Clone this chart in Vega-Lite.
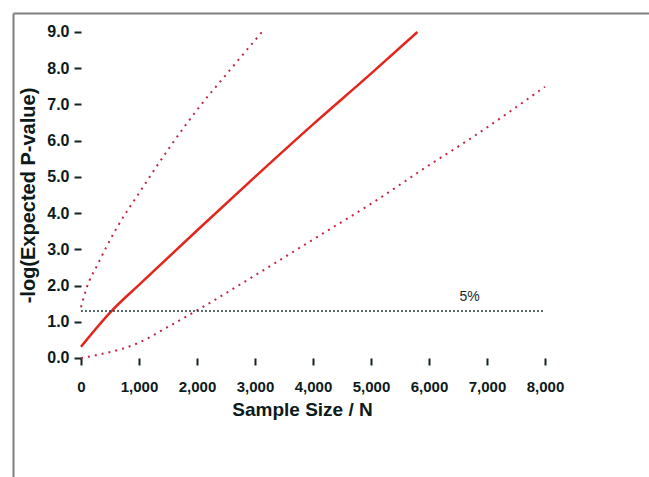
{
  "$schema": "https://vega.github.io/schema/vega-lite/v6.json",
  "width": 636,
  "height": 464,
  "padding": {"left": 13, "top": 13, "right": 0, "bottom": 0},
  "background": "white",
  "config": {"view": {"stroke": null}},
  "datasets": {
    "curves": [
      {"series": "mid", "n": 0, "p": 0.31},
      {"series": "mid", "n": 529, "p": 1.3},
      {"series": "mid", "n": 1000, "p": 2.02},
      {"series": "mid", "n": 2000, "p": 3.52},
      {"series": "mid", "n": 3000, "p": 5.0},
      {"series": "mid", "n": 4000, "p": 6.45},
      {"series": "mid", "n": 5000, "p": 7.85},
      {"series": "mid", "n": 5800, "p": 9.0},
      {"series": "upper", "n": 0, "p": 1.4},
      {"series": "upper", "n": 100, "p": 1.95},
      {"series": "upper", "n": 276, "p": 2.55},
      {"series": "upper", "n": 620, "p": 3.6},
      {"series": "upper", "n": 1000, "p": 4.55},
      {"series": "upper", "n": 1500, "p": 5.75},
      {"series": "upper", "n": 2050, "p": 6.95},
      {"series": "upper", "n": 2500, "p": 7.82},
      {"series": "upper", "n": 3120, "p": 9.0},
      {"series": "lower", "n": 0, "p": 0.0},
      {"series": "lower", "n": 328, "p": 0.1},
      {"series": "lower", "n": 965, "p": 0.4},
      {"series": "lower", "n": 1500, "p": 0.86},
      {"series": "lower", "n": 2017, "p": 1.33},
      {"series": "lower", "n": 3000, "p": 2.28},
      {"series": "lower", "n": 4000, "p": 3.27},
      {"series": "lower", "n": 5100, "p": 4.36},
      {"series": "lower", "n": 5960, "p": 5.28},
      {"series": "lower", "n": 6764, "p": 6.11},
      {"series": "lower", "n": 8000, "p": 7.49}
    ],
    "threshold": [
      {"n": 0, "p": 1.3},
      {"n": 8000, "p": 1.3}
    ],
    "note": [
      {"n": 6700, "p": 1.3, "label": "5%"}
    ]
  },
  "resolve": {"axis": {"x": "independent", "y": "independent"}},
  "layer": [
    {
      "data": {"name": "curves"},
      "mark": {"type": "point", "opacity": 0},
      "encoding": {
        "x": {"field": "n", "type": "quantitative",
          "scale": {"domain": [-1172.4, 9793.1], "nice": false, "zero": false},
          "axis": {"orient": "top", "domain": true, "domainColor": "#808080", "domainWidth": 2, "ticks": false, "labels": false, "grid": false, "title": null}},
        "y": {"field": "p", "type": "quantitative",
          "scale": {"domain": [-3.2855, 9.5245], "nice": false, "zero": false},
          "axis": {"orient": "left", "offset": 0, "domain": true, "domainColor": "#808080", "domainWidth": 2, "ticks": false, "labels": false, "grid": false, "title": null}}
      }
    },
    {
      "data": {"name": "curves"},
      "transform": [{"filter": "datum.series === 'mid'"}],
      "mark": {"type": "line", "color": "#e3261d", "strokeWidth": 2.5, "interpolate": "monotone"},
      "encoding": {
        "x": {"field": "n", "type": "quantitative",
          "scale": {"domain": [-1172.4, 9793.1], "nice": false, "zero": false},
          "axis": {"orient": "bottom", "offset": -119, "values": [0, 1000, 2000, 3000, 4000, 5000, 6000, 7000, 8000],
            "format": ",d", "domain": false, "grid": false,
            "ticks": true, "tickSize": 7, "tickWidth": 2, "tickColor": "#142222",
            "labelFont": "Liberation Sans", "labelFontWeight": "bold", "labelFontSize": 15, "labelColor": "#0d1a1a", "labelPadding": 14,
            "labelFlush": false, "labelOverlap": false,
            "title": "Sample Size / N", "titleFont": "Liberation Sans", "titleFontWeight": "bold", "titleFontSize": 19, "titleColor": "#0d1a1a", "titlePadding": 6, "titleX": 289}},
        "y": {"field": "p", "type": "quantitative",
          "scale": {"domain": [-3.2855, 9.5245], "nice": false, "zero": false},
          "axis": {"orient": "left", "offset": -68, "values": [0, 1, 2, 3, 4, 5, 6, 7, 8, 9],
            "format": ".1f", "domain": false, "grid": false,
            "ticks": true, "tickSize": 7, "tickWidth": 2, "tickColor": "#142222",
            "labelFont": "Liberation Sans", "labelFontWeight": "bold", "labelFontSize": 16, "labelColor": "#0d1a1a", "labelPadding": 5,
            "labelFlush": false, "labelOverlap": false,
            "title": "-log(Expected P-value)", "titleFont": "Liberation Sans", "titleFontWeight": "bold", "titleFontSize": 20, "titleColor": "#0d1a1a", "titlePadding": 8, "titleY": 182}}
      }
    },
    {
      "data": {"name": "curves"},
      "transform": [{"filter": "datum.series !== 'mid'"}],
      "mark": {"type": "line", "color": "#c4263f", "strokeWidth": 2, "strokeDash": [2, 5], "interpolate": "monotone"},
      "encoding": {
        "x": {"field": "n", "type": "quantitative", "scale": {"domain": [-1172.4, 9793.1], "nice": false, "zero": false}, "axis": null},
        "y": {"field": "p", "type": "quantitative", "scale": {"domain": [-3.2855, 9.5245], "nice": false, "zero": false}, "axis": null},
        "detail": {"field": "series"}
      }
    },
    {
      "data": {"name": "threshold"},
      "mark": {"type": "line", "color": "#1f3a3a", "strokeWidth": 1.5, "strokeDash": [2, 2]},
      "encoding": {
        "x": {"field": "n", "type": "quantitative", "scale": {"domain": [-1172.4, 9793.1], "nice": false, "zero": false}, "axis": null},
        "y": {"field": "p", "type": "quantitative", "scale": {"domain": [-3.2855, 9.5245], "nice": false, "zero": false}, "axis": null}
      }
    },
    {
      "data": {"name": "note"},
      "mark": {"type": "text", "font": "Liberation Sans", "fontSize": 14, "color": "#1a2a2a", "dy": -14},
      "encoding": {
        "x": {"field": "n", "type": "quantitative", "scale": {"domain": [-1172.4, 9793.1], "nice": false, "zero": false}, "axis": null},
        "y": {"field": "p", "type": "quantitative", "scale": {"domain": [-3.2855, 9.5245], "nice": false, "zero": false}, "axis": null},
        "text": {"field": "label"}
      }
    },
    {
      "mark": {"type": "rule", "color": "#142222", "strokeWidth": 2},
      "encoding": {
        "x": {"datum": 0, "type": "quantitative", "scale": {"domain": [-1172.4, 9793.1], "nice": false, "zero": false}, "axis": null},
        "x2": {"datum": 8000},
        "y": {"datum": 0, "type": "quantitative", "scale": {"domain": [-3.2855, 9.5245], "nice": false, "zero": false}, "axis": null}
      }
    },
    {
      "mark": {"type": "rule", "color": "#142222", "strokeWidth": 2},
      "encoding": {
        "x": {"datum": 0, "type": "quantitative", "scale": {"domain": [-1172.4, 9793.1], "nice": false, "zero": false}, "axis": null},
        "y": {"datum": 0, "type": "quantitative", "scale": {"domain": [-3.2855, 9.5245], "nice": false, "zero": false}, "axis": null},
        "y2": {"datum": 9}
      }
    }
  ]
}
